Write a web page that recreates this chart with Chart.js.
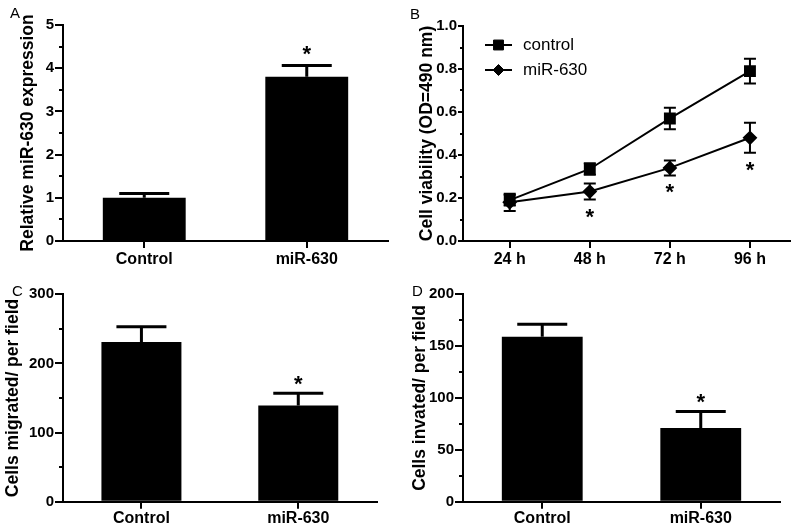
<!DOCTYPE html>
<html>
<head>
<meta charset="utf-8">
<title>miR-630 figure</title>
<script src="https://cdn.jsdelivr.net/npm/chart.js@4.4.1/dist/chart.umd.min.js"></script>
<style>
  body { margin: 0; background: #fff; }
  #figure { position: relative; width: 800px; height: 529px; font-family: Arial, "Liberation Sans", sans-serif; }
  .panel { position: absolute; }
  .panel canvas { display: block; }
  .tag { position: absolute; font-size: 15px; line-height: 15px; color: #000; }
</style>
</head>
<body>
<div id="figure">
  <div class="panel" style="left:0;top:0"><canvas id="chart-a" width="400" height="265"></canvas></div>
  <div class="panel" style="left:400px;top:0"><canvas id="chart-b" width="400" height="265"></canvas></div>
  <div class="panel" style="left:0;top:265px"><canvas id="chart-c" width="400" height="264"></canvas></div>
  <div class="panel" style="left:400px;top:265px"><canvas id="chart-d" width="400" height="264"></canvas></div>
  <div class="tag" style="left:10px;top:5px">A</div>
  <div class="tag" style="left:410px;top:6px">B</div>
  <div class="tag" style="left:12px;top:283px">C</div>
  <div class="tag" style="left:412px;top:283px">D</div>
</div>
<script>
// data
const groups = ['Control', 'miR-630'];
const exprMean = [1.0, 3.8];
const exprErr = [0.1, 0.26];
const exprStars = [false, true];

const migratedMean = [231, 139];
const migratedErr = [22, 18];
const migratedStars = [false, true];

const invadedMean = [159, 71];
const invadedErr = [12, 16];
const invadedStars = [false, true];

const hours = [24, 48, 72, 96];
const hourLabels = ['24 h', '48 h', '72 h', '96 h'];
const controlOD = [0.19, 0.335, 0.57, 0.79];
const controlODErr = [0.025, 0.027, 0.05, 0.058];
const mirOD = [0.18, 0.23, 0.34, 0.48];
const mirODErr = [0.04, 0.037, 0.035, 0.07];
const mirStars = [false, true, true, true];

const FONT = 'Arial, "Liberation Sans", sans-serif';
Chart.defaults.color = '#000';
Chart.defaults.font.family = FONT;

function drawStar(ctx, x, cy) {
  ctx.save();
  ctx.fillStyle = '#000';
  ctx.font = 'bold 22px ' + FONT;
  ctx.textAlign = 'center';
  ctx.textBaseline = 'alphabetic';
  ctx.fillText('*', x, cy + 12);
  ctx.restore();
}

// SEM whiskers + significance stars
const errorBars = {
  id: 'errorBars',
  afterDatasetsDraw(chart) {
    const ctx = chart.ctx;
    const yScale = chart.scales.y;
    chart.data.datasets.forEach((ds, i) => {
      if (!ds.errors) return;
      const meta = chart.getDatasetMeta(i);
      meta.data.forEach((el, j) => {
        const raw = ds.data[j];
        const v = typeof raw === 'object' ? raw.y : raw;
        const e = ds.errors[j];
        const yUp = yScale.getPixelForValue(v + e);
        const yDown = ds.upperOnly ? el.y : yScale.getPixelForValue(v - e);
        const cap = ds.capHalf;
        ctx.save();
        ctx.strokeStyle = '#000';
        ctx.lineWidth = ds.errorLineWidth;
        ctx.beginPath();
        ctx.moveTo(el.x, yDown);
        ctx.lineTo(el.x, yUp);
        ctx.moveTo(el.x - cap, yUp);
        ctx.lineTo(el.x + cap, yUp);
        if (!ds.upperOnly) {
          ctx.moveTo(el.x - cap, yDown);
          ctx.lineTo(el.x + cap, yDown);
        }
        ctx.stroke();
        ctx.restore();
        if (ds.stars && ds.stars[j]) {
          drawStar(ctx, el.x, ds.upperOnly ? yUp - ds.starGap : yDown + ds.starGap);
        }
      });
    });
  }
};

const minorTicks = {
  id: 'minorTicks',
  afterDraw(chart, args, opts) {
    if (!opts.step) return;
    const s = chart.scales.y;
    const ctx = chart.ctx;
    const left = chart.chartArea.left;
    ctx.save();
    ctx.strokeStyle = '#000';
    ctx.lineWidth = 2;
    ctx.beginPath();
    for (let k = 1; s.min + k * opts.step <= s.max + 1e-9; k += 2) {
      const y = Math.round(s.getPixelForValue(s.min + k * opts.step));
      ctx.moveTo(left - opts.len, y);
      ctx.lineTo(left, y);
    }
    ctx.stroke();
    ctx.restore();
  }
};

const insideLegend = {
  id: 'insideLegend',
  afterDraw(chart, args, opts) {
    if (!opts.x) return;
    const ctx = chart.ctx;
    chart.data.datasets.forEach((ds, i) => {
      const y = opts.y + i * opts.rowGap;
      const mid = opts.x + opts.lineLen / 2;
      ctx.save();
      ctx.strokeStyle = '#000';
      ctx.fillStyle = '#000';
      ctx.lineWidth = 2;
      ctx.beginPath();
      ctx.moveTo(opts.x, y);
      ctx.lineTo(opts.x + opts.lineLen, y);
      ctx.stroke();
      ctx.lineWidth = 1;
      Chart.helpers.drawPoint(ctx, { pointStyle: ds.pointStyle, radius: ds.legendRadius, rotation: 0, borderWidth: 1 }, mid, y);
      ctx.font = '17px ' + FONT;
      ctx.textBaseline = 'middle';
      ctx.textAlign = 'left';
      ctx.fillText(ds.label, opts.x + opts.lineLen + opts.textGap, y);
      ctx.restore();
    });
  }
};

function yAxis(min, max, step, title, titlePad, tickLen, fmt) {
  return {
    min: min, max: max,
    ticks: { stepSize: step, padding: 1, font: { size: 15, weight: 'bold' }, callback: fmt || (v => v) },
    grid: { drawOnChartArea: false, tickLength: tickLen, color: '#000', lineWidth: 2 },
    border: { color: '#000', width: 2 },
    title: { display: true, text: title, font: { size: 17.5, weight: 'bold' }, padding: { top: titlePad, bottom: 0 } },
    afterFit(s) { s.width = 63; }
  };
}

function barPanel(id, means, errs, stars, yMin, yMax, yStep, minor, title, titlePad, pad, xHeight, labelPad, starGap) {
  return new Chart(document.getElementById(id), {
    type: 'bar',
    data: {
      labels: groups,
      datasets: [{
        data: means,
        errors: errs,
        stars: stars,
        upperOnly: true,
        capHalf: 25,
        errorLineWidth: 3,
        starGap: starGap,
        backgroundColor: '#000',
        borderWidth: 0,
        barPercentage: 0.51,
        categoryPercentage: 1
      }]
    },
    options: {
      responsive: false,
      animation: false,
      layout: { padding: pad },
      plugins: { legend: { display: false }, tooltip: { enabled: false }, minorTicks: { step: minor, len: 4 } },
      scales: {
        x: {
          ticks: { padding: labelPad, font: { size: 16, weight: 'bold' }, maxRotation: 0 },
          grid: { offset: false, drawOnChartArea: false, tickLength: 7, color: '#000', lineWidth: 2 },
          border: { color: '#000', width: 2 },
          afterFit(s) { s.height = xHeight; }
        },
        y: yAxis(yMin, yMax, yStep, title, titlePad, 8)
      }
    },
    plugins: [errorBars, minorTicks]
  });
}

barPanel('chart-a', exprMean, exprErr, exprStars, 0, 5, 1, 0.5,
  'Relative miR-630 expression', 17.5, { top: 25, right: 12, bottom: 0, left: 0 }, 24, 2, 17);
barPanel('chart-c', migratedMean, migratedErr, migratedStars, 0, 300, 100, 50,
  'Cells migrated/ per field', 2.5, { top: 29.3, right: 23.3, bottom: 0, left: 0 }, 27.3, 0, 14);
barPanel('chart-d', invadedMean, invadedErr, invadedStars, 0, 200, 50, 25,
  'Cells invated/ per field', 10, { top: 29.3, right: 20, bottom: 0, left: 0 }, 27.3, 0, 14);

// panel B: viability time course
new Chart(document.getElementById('chart-b'), {
  type: 'line',
  data: {
    datasets: [
      {
        label: 'control',
        data: hours.map((h, i) => ({ x: h, y: controlOD[i] })),
        errors: controlODErr,
        capHalf: 6,
        errorLineWidth: 2,
        borderColor: '#000',
        backgroundColor: '#000',
        borderWidth: 2,
        pointStyle: 'rect',
        pointRadius: 7,
        legendRadius: 7,
        tension: 0
      },
      {
        label: 'miR-630',
        data: hours.map((h, i) => ({ x: h, y: mirOD[i] })),
        errors: mirODErr,
        stars: mirStars,
        starGap: 12,
        capHalf: 6,
        errorLineWidth: 2,
        borderColor: '#000',
        backgroundColor: '#000',
        borderWidth: 2,
        pointStyle: 'rectRot',
        pointRadius: 6,
        legendRadius: 5.5,
        tension: 0
      }
    ]
  },
  options: {
    responsive: false,
    animation: false,
    layout: { padding: { top: 26, right: 10, bottom: 0, left: 0 } },
    plugins: {
      legend: { display: false },
      tooltip: { enabled: false },
      minorTicks: { step: 0.1, len: 3 },
      insideLegend: { x: 85, y: 45, rowGap: 25, lineLen: 27, textGap: 11 }
    },
    scales: {
      x: {
        type: 'linear',
        min: 10, max: 108,
        afterBuildTicks(s) { s.ticks = hours.map(v => ({ value: v })); },
        ticks: { autoSkip: false, maxRotation: 0, padding: 2, font: { size: 16, weight: 'bold' },
          callback: v => hourLabels[hours.indexOf(v)] },
        grid: { drawOnChartArea: false, tickLength: 7, color: '#000', lineWidth: 2 },
        border: { color: '#000', width: 2 },
        afterFit(s) { s.height = 24; }
      },
      y: yAxis(0, 1, 0.2, 'Cell viability (OD=490 nm)', 17, 5, v => v.toFixed(1))
    }
  },
  plugins: [errorBars, minorTicks, insideLegend]
});
</script>
</body>
</html>
